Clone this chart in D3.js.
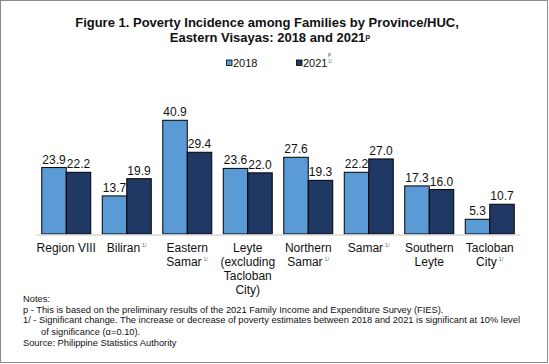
<!DOCTYPE html>
<html>
<head>
<meta charset="utf-8">
<script src="https://cdn.jsdelivr.net/npm/d3@7"></script>
<style>
  html, body { margin: 0; padding: 0; background: #fff; }
  svg { display: block; font-family: Arial, "Liberation Sans", sans-serif; }
</style>
</head>
<body>
<svg id="chart" width="549" height="364"></svg>
<script>
const categories = [
  ["Region VIII"],
  ["Biliran"],
  ["Eastern", "Samar"],
  ["Leyte", "(excluding", "Tacloban", "City)"],
  ["Northern", "Samar"],
  ["Samar"],
  ["Southern", "Leyte"],
  ["Tacloban", "City"]
];
const significant = [false, true, true, false, true, true, false, true];
const seriesNames = ["2018", "2021"];
const values2018 = [23.9, 13.7, 40.9, 23.6, 27.6, 22.2, 17.3, 5.3];
const values2021 = [22.2, 19.9, 29.4, 22.0, 19.3, 27.0, 16.0, 10.7];
const colors = ["#5b9bd5", "#1f3864"];
const titleLines = ["Figure 1. Poverty Incidence among Families by Province/HUC,", "Eastern Visayas: 2018 and 2021"];
const notes = [
  "Notes:",
  "p - This is based on the preliminary results of the 2021 Family Income and Expenditure Survey (FIES).",
  "1/ - Significant change. The increase or decrease of poverty estimates between 2018 and 2021 is significant at 10% level",
  "of significance (\u03b1=0.10).",
  "Source: Philippine Statistics Authority"
];

const svg = d3.select("#chart");

// border
svg.append("rect").attr("x", 0.5).attr("y", 0.5).attr("width", 547).attr("height", 362)
  .attr("fill", "none").attr("stroke", "#8c8c8c").attr("stroke-width", 1);

// title
const title = svg.append("text").attr("text-anchor", "middle").attr("font-weight", "bold")
  .attr("font-size", 13).attr("fill", "#111");
title.append("tspan").attr("x", 267).attr("y", 27).text(titleLines[0]);
title.append("tspan").attr("x", 270).attr("y", 42).text(titleLines[1]);
title.append("tspan").attr("font-size", 8).attr("dy", -3).text("p");

// scales
const x0 = d3.scaleBand().domain(d3.range(categories.length)).range([36, 520]).paddingInner(0).paddingOuter(0);
const x1 = d3.scaleBand().domain([0, 1]).range([0, x0.bandwidth()]).paddingOuter(0.235).paddingInner(0);
const y = d3.scaleLinear().domain([0, 50]).range([234, 95]);

const data = categories.map((c, i) => ({ i, vals: [values2018[i], values2021[i]] }));

const groups = svg.append("g").selectAll("g").data(data).join("g")
  .attr("transform", d => `translate(${x0(d.i)},0)`);

groups.selectAll("rect").data(d => d.vals.map((v, k) => ({ v, k }))).join("rect")
  .attr("x", d => x1(d.k))
  .attr("y", d => y(d.v))
  .attr("width", x1.bandwidth())
  .attr("height", d => y(0) - y(d.v))
  .attr("fill", d => colors[d.k])
  .attr("stroke", "#000").attr("stroke-width", 1);

groups.selectAll("text.val").data(d => d.vals.map((v, k) => ({ v, k }))).join("text")
  .attr("class", "val")
  .attr("x", d => x1(d.k) + x1.bandwidth() / 2)
  .attr("y", d => y(d.v) - 4)
  .attr("text-anchor", "middle").attr("font-size", 12).attr("fill", "#111")
  .text(d => d.v.toFixed(1));

// x axis line
const xAxis = d3.axisBottom(x0).tickSize(0).tickFormat("");
const ax = svg.append("g").attr("transform", "translate(0,234.5)").call(xAxis);
ax.select(".domain").attr("stroke", "#d9d9d9").attr("stroke-width", 1.5);

// category labels
categories.forEach((lines, i) => {
  const cx = x0(i) + x0.bandwidth() / 2;
  lines.forEach((ln, j) => {
    const t = svg.append("text").attr("x", cx).attr("y", 252 + j * 14)
      .attr("text-anchor", "middle").attr("font-size", 12).attr("fill", "#111");
    t.append("tspan").text(ln);
    if (significant[i] && j === lines.length - 1) {
      t.append("tspan").attr("font-size", 6).attr("dy", -5).attr("fill", "#777").text(" 1/");
    }
  });
});

// legend
const legend = [[226.5, 0], [296.5, 1]];
legend.forEach(([lx, k]) => {
  svg.append("rect").attr("x", lx).attr("y", 60).attr("width", 5.5).attr("height", 5.5)
    .attr("fill", colors[k]).attr("stroke", "#000").attr("stroke-width", 0.8);
  svg.append("text").attr("x", lx + 6.5).attr("y", 67).attr("font-size", 11).attr("fill", "#111")
    .text(seriesNames[k]);
});
svg.append("text").attr("x", 328).attr("y", 56).attr("font-size", 5).attr("fill", "#333").text("p");
svg.append("text").attr("x", 328).attr("y", 63).attr("font-size", 5).attr("fill", "#3aa03a").text("1/");

// notes
const noteY = [301.5, 312.5, 323, 334.5, 346];
const noteX = [23, 23, 23, 41, 23];
notes.forEach((n, i) => {
  svg.append("text").attr("x", noteX[i]).attr("y", noteY[i]).attr("font-size", 9.3)
    .attr("fill", "#111").text(n);
});
</script>
</body>
</html>
